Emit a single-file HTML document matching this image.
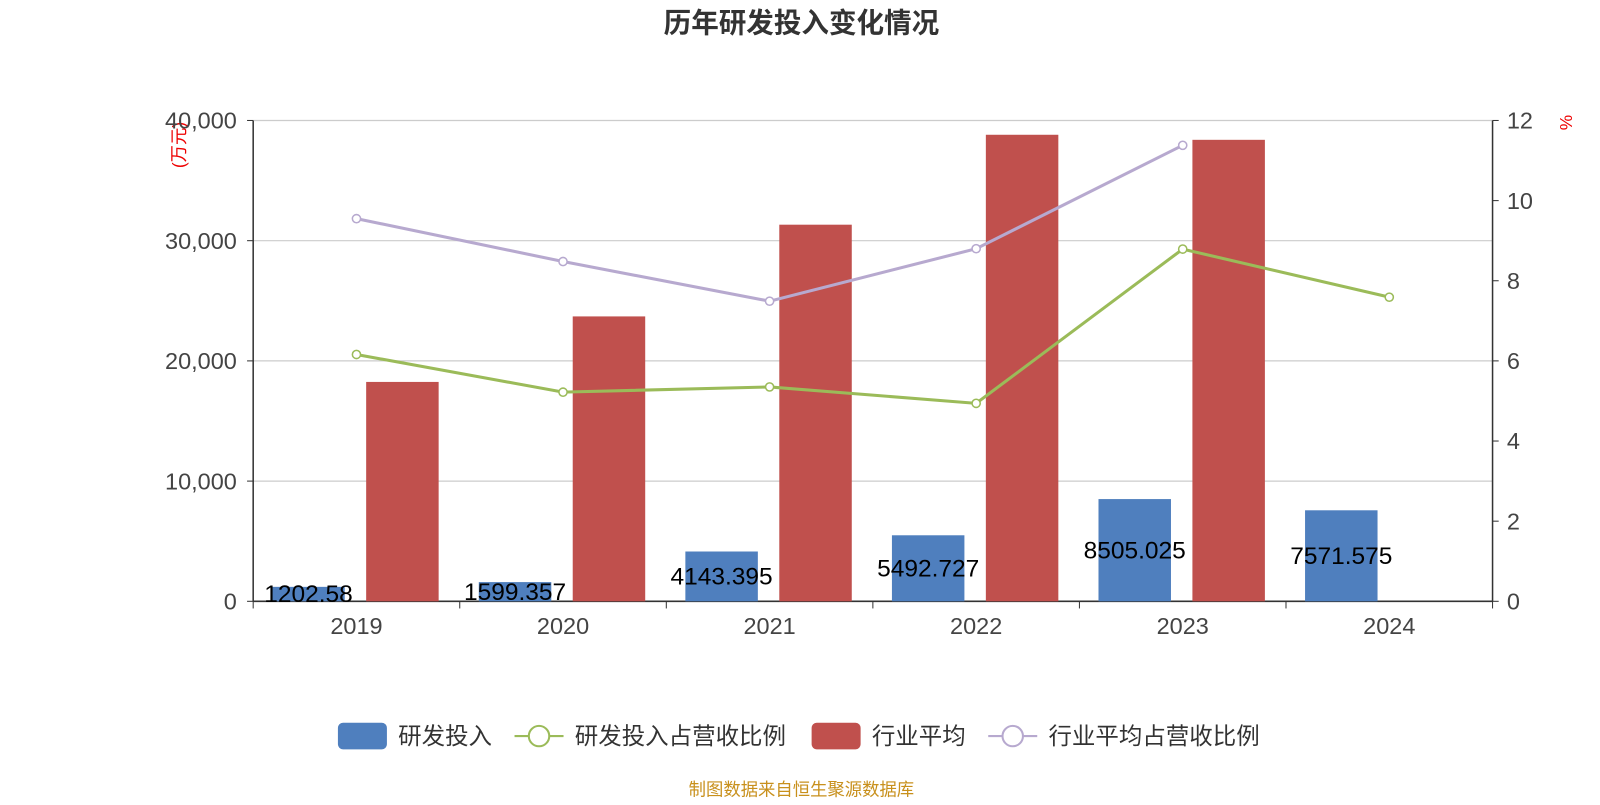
<!DOCTYPE html>
<html><head><meta charset="utf-8">
<style>
body{margin:0;background:#fff;width:1600px;height:800px;overflow:hidden;font-family:"Liberation Sans","Noto Sans CJK SC",sans-serif;}
svg text{font-family:"Liberation Sans","Noto Sans CJK SC",sans-serif;}
</style></head>
<body>
<svg id="chart" width="1600" height="800">
<g transform="scale(1.0209)">
<text x="785" y="32" text-anchor="middle" font-size="27" font-weight="bold" fill="#333">历年研发投入变化情况</text>
<text transform="translate(181,142) rotate(-90)" text-anchor="middle" font-size="17" fill="#e00">(万元)</text>
<text transform="translate(1540,120) rotate(-90)" text-anchor="middle" font-size="17" fill="#e00">%</text>
<g id="grid"></g><g id="bars"></g><g id="lines"></g><g id="axes"></g><g id="labels"></g>
<g id="legend">
 <g><rect x="331" y="708" width="48" height="26" rx="5" fill="#4f7fbe"/><text x="390" y="729" font-size="23" fill="#333">研发投入</text></g>
 <g><line x1="504" y1="721" x2="552" y2="721" stroke="#9bbb59" stroke-width="2"/><circle cx="528" cy="721" r="10" fill="#fff" stroke="#9bbb59" stroke-width="2"/><text x="563" y="729" font-size="23" fill="#333">研发投入占营收比例</text></g>
 <g><rect x="795" y="708" width="48" height="26" rx="5" fill="#c0504d"/><text x="854" y="729" font-size="23" fill="#333">行业平均</text></g>
 <g><line x1="968" y1="721" x2="1016" y2="721" stroke="#b7a9cf" stroke-width="2"/><circle cx="992" cy="721" r="10" fill="#fff" stroke="#b7a9cf" stroke-width="2"/><text x="1027" y="729" font-size="23" fill="#333">行业平均占营收比例</text></g>
</g>
<text x="785" y="779" text-anchor="middle" font-size="17" fill="#c8901c">制图数据来自恒生聚源数据库</text>
</g>
</svg>
<script>
const categories=["2019","2020","2021","2022","2023","2024"];
const rdValues=[1202.58,1599.357,4143.395,5492.727,8505.025,7571.575];
const rdLabels=["1202.58","1599.357","4143.395","5492.727","8505.025","7571.575"];
const industryValues=[18250,23700,31330,38810,38390,null];
const rdRatio=[6.16,5.22,5.35,4.94,8.79,7.59];
const industryRatio=[9.55,8.48,7.49,8.80,11.38,null];
const leftTicks=[0,10000,20000,30000,40000];
const leftTickLabels=["0","10,000","20,000","30,000","40,000"];
const rightTicks=[0,2,4,6,8,10,12];

const NS="http://www.w3.org/2000/svg";
const X0=248,X1=1462,Y0=589,Y1=118;
const bw=(X1-X0)/categories.length;
const yL=v=>Y0-(v/40000)*(Y0-Y1);
const yR=v=>Y0-(v/12)*(Y0-Y1);
const xc=i=>X0+bw*(i+0.5);
function mk(tag,attrs,parent){const e=document.createElementNS(NS,tag);for(const k in attrs)e.setAttribute(k,attrs[k]);document.getElementById(parent).appendChild(e);return e;}

leftTicks.forEach((t,i)=>{
 const g=mk("line",{x1:X0,x2:X1,y1:yL(t),y2:yL(t),stroke:t===0?"#333":"#ccc","stroke-width":t===0?1.5:1.2},"grid");
 
 
 const tx=mk("text",{x:X0-16,y:yL(t)+8,"text-anchor":"end","font-size":"23",fill:"#444"},"axes");
 tx.textContent=leftTickLabels[i];
 
 
 mk("line",{x1:X0-6,x2:X0,y1:yL(t),y2:yL(t),stroke:"#333"},"axes");
});
mk("line",{x1:X0,x2:X0,y1:Y1,y2:Y0,stroke:"#333","stroke-width":1.5},"axes");
mk("line",{x1:X1,x2:X1,y1:Y1,y2:Y0,stroke:"#333","stroke-width":1.5},"axes");
rightTicks.forEach(t=>{
 mk("line",{x1:X1,x2:X1+6,y1:yR(t),y2:yR(t),stroke:"#333"},"axes");
 const tx=mk("text",{x:X1+14,y:yR(t)+8,"font-size":"23",fill:"#444"},"axes");
 tx.textContent=t;
 
 
});
for(let i=0;i<=categories.length;i++) mk("line",{x1:X0+bw*i,x2:X0+bw*i,y1:Y0,y2:Y0+7,stroke:"#333"},"axes");
categories.forEach((c,i)=>{
 const tx=mk("text",{x:xc(i),y:Y0+32,"text-anchor":"middle","font-size":"23",fill:"#444"},"axes");
 tx.textContent=c;
 
 
});
const W=71;
categories.forEach((c,i)=>{
 const b=mk("rect",{x:xc(i)-47-W/2,y:yL(rdValues[i]),width:W,height:Y0-yL(rdValues[i]),fill:"#4f7fbe"},"bars");
 
 
 if(industryValues[i]!=null){
  const r=mk("rect",{x:xc(i)+45-W/2,y:yL(industryValues[i]),width:W,height:Y0-yL(industryValues[i]),fill:"#c0504d"},"bars");
  
  
 }
 const l=mk("text",{x:xc(i)-47,y:(yL(rdValues[i])+Y0)/2+8,"text-anchor":"middle","font-size":"24",fill:"#000"},"labels");
 l.textContent=rdLabels[i];
 
 
});
function line(vals,color,name){
 const pts=[];vals.forEach((v,i)=>{if(v!=null)pts.push([xc(i),yR(v)]);});
 const p=mk("polyline",{points:pts.map(p=>p.join(",")).join(" "),fill:"none",stroke:color,"stroke-width":3},"lines");
 
 
 pts.forEach(q=>{
  const c=mk("circle",{cx:q[0],cy:q[1],r:4,fill:"#fff",stroke:color,"stroke-width":1.5},"lines");
  
  
 });
}
line(industryRatio,"#b7a9cf","industry-ratio");
line(rdRatio,"#9bbb59","rd-ratio");
</script>
</body></html>
